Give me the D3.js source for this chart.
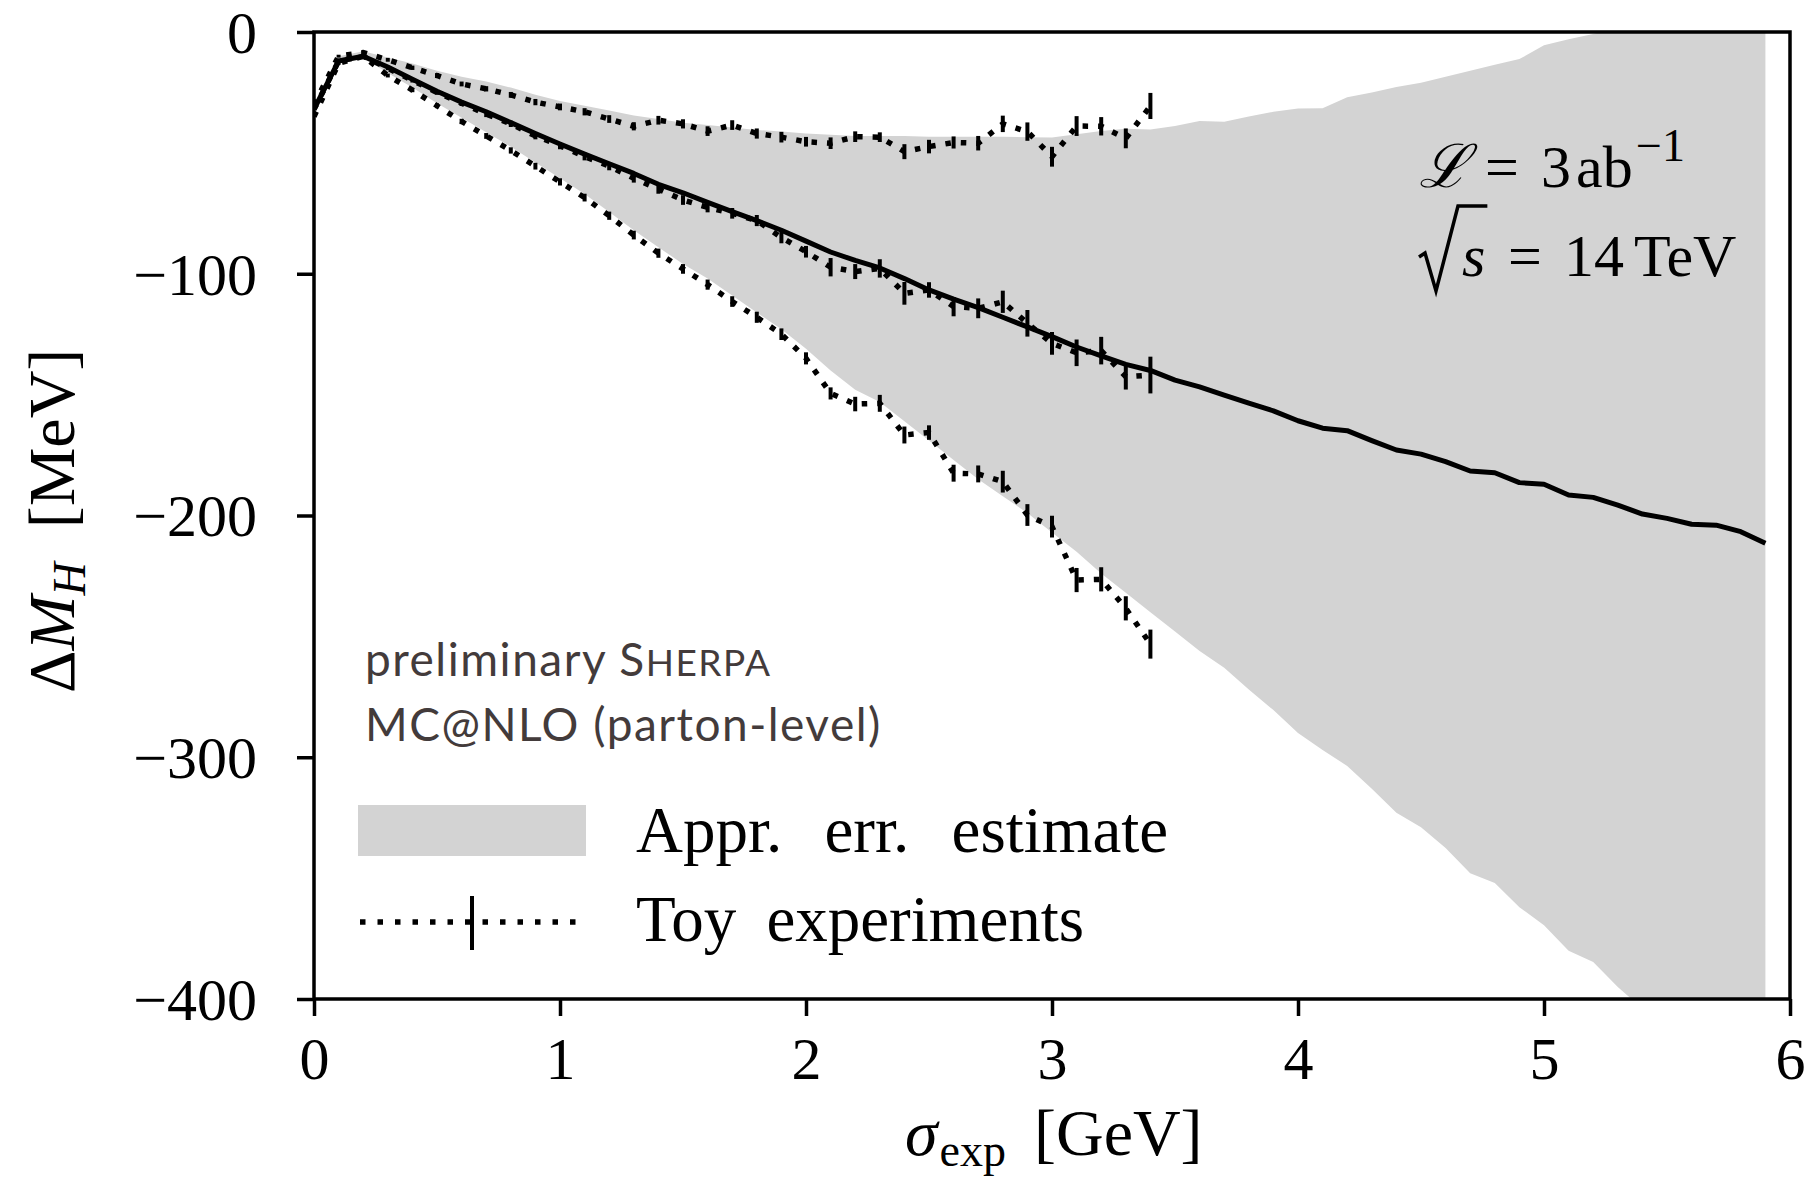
<html>
<head>
    <script src="https://d3js.org/d3.v7.min.js"></script>
    <style type="text/css">
        body { margin: 0; background: #fff; }
        text.num { font-family: "Liberation Serif", "DejaVu Serif", serif; font-size: 60px; fill: #000; }
        text.math { font-family: "Liberation Serif", "DejaVu Serif", serif; font-size: 60px; fill: #000; }
        text.label { font-family: "Liberation Serif", "DejaVu Serif", serif; font-size: 66px; fill: #000; }
        text.legend { font-family: "Liberation Serif", "DejaVu Serif", serif; font-size: 65px; fill: #000; }
        text.sherpa { font-family: Lato, "Open Sans", sans-serif; font-size: 46px; fill: #433b3b; letter-spacing: 1.5px; }
        path.toy { fill: none; stroke: #000; stroke-width: 5.5; stroke-dasharray: 5.5 10; }
        line.bar { stroke: #000; stroke-width: 4; }
    </style>
</head>

<body>
    <svg></svg>

    <script>
        const Width = 1812, Height = 1200;
        const Left = 314, Right = 1790, Top = 32, Bottom = 999;
        const Grey = "#d3d3d3";

        // sigma_exp grid [GeV]
        const sigma = [0.0, 0.1, 0.2, 0.3, 0.4, 0.5, 0.6, 0.7, 0.8, 0.9,
                       1.0, 1.1, 1.2, 1.3, 1.4, 1.5, 1.6, 1.7, 1.8, 1.9,
                       2.0, 2.1, 2.2, 2.3, 2.4, 2.5, 2.6, 2.7, 2.8, 2.9,
                       3.0, 3.1, 3.2, 3.3, 3.4, 3.5, 3.6, 3.7, 3.8, 3.9,
                       4.0, 4.1, 4.2, 4.3, 4.4, 4.5, 4.6, 4.7, 4.8, 4.9,
                       5.0, 5.1, 5.2, 5.3, 5.4, 5.5, 5.6, 5.7, 5.8, 5.9];

        // central Delta M_H [MeV]
        const central = [-32, -12, -10, -14.5, -19.5, -24.5, -29, -33, -37.5, -42,
                         -46.3, -50.5, -54.5, -58.5, -63, -66.5, -70.5, -74.3, -78, -82,
                         -86.5, -91, -94.5, -97.6, -102, -106.7, -110.5, -114, -118, -122,
                         -126, -130.3, -134, -137.5, -140, -144, -146.8, -150.2, -153.5, -156.7,
                         -160.8, -163.9, -164.9, -169, -172.9, -174.6, -177.7, -181.6, -182.3, -186.4,
                         -187.1, -191.5, -192.5, -195.7, -199.4, -201.2, -203.6, -204, -206.7, -211.5];

        // approximate error estimate band
        const bandHigh = [-30, -10, -8, -10.5, -13, -16, -18.5, -20.5, -23, -26,
                          -28.5, -30.5, -32.5, -34.5, -36, -37.5, -38.5, -39.5, -40.5, -41.2,
                          -42, -42.5, -43, -43, -43, -43.3, -43.3, -43.3, -43.3, -43.5,
                          -43.6, -42.3, -41, -40, -40.3, -38.9, -36.8, -37.1, -35, -33,
                          -31.6, -31.5, -27, -25, -22.8, -21, -18.5, -16, -13.5, -11.2,
                          -5.5, -3, -0.8, 2, 5, 8, 10, 12, 14, 16];
        const bandLow = [-34, -13, -10.5, -17, -23, -29.5, -35.5, -41.5, -47.5, -54,
                         -60.5, -67, -74.5, -82, -89, -96, -102, -109, -116, -123,
                         -131, -140, -148, -153, -161, -169, -177, -185, -192, -199,
                         -207, -215, -224, -232, -240, -248, -256, -263, -272, -280.5,
                         -290, -297, -303.6, -313, -323, -329, -337.5, -348, -352, -362,
                         -369.5, -380, -384.7, -395, -404, -412, -420, -428, -436, -444];

        // toy experiments (sigma 0.0 .. 3.4)
        const toySigma = sigma.slice(0, 35);
        const toyUpper = [-30, -10, -8.5, -11.5, -14.8, -18, -21.5, -23.5, -26, -29,
                          -31, -33, -36, -39, -36.5, -38, -41, -38.5, -42, -43.5,
                          -45.4, -46, -43.3, -43.5, -49.5, -47.4, -45.7, -46, -38, -41.2,
                          -51.6, -38.9, -39, -44, -30.6];
        const toyUpperErr = [0.5, 0.6, 0.7, 0.8, 0.9, 1, 1, 1.1, 1.2, 1.3,
                             1.4, 1.5, 1.6, 1.7, 1.8, 1.9, 2, 2, 2.1, 2.2,
                             2, 2.4, 2.2, 2, 3.1, 2.8, 2.5, 3, 3.4, 3.8,
                             4.1, 4.1, 3.8, 4.1, 5.4];
        const toyMiddle = [-32, -12, -10, -15, -20, -25, -29.5, -34, -38, -43,
                           -47, -51.5, -55.5, -60.5, -65, -69.5, -72.5, -75, -78, -85,
                           -90.9, -97.3, -99.1, -97.8, -108.1, -106.7, -113.6, -114.3, -111.6, -120.5,
                           -128.8, -132.7, -131.8, -142.6, -141.9];
        const toyMiddleErr = [0.5, 0.6, 0.7, 0.8, 0.9, 1, 1.1, 1.2, 1.3, 1.4,
                              1.5, 1.6, 1.7, 1.8, 1.9, 2, 2.1, 2.2, 2.3, 2.4,
                              2.4, 3.8, 3.1, 3.8, 4.7, 3.2, 4, 4.1, 4.6, 5.5,
                              4.7, 5.5, 5.7, 5.3, 7.6];
        const toyLower = [-35, -13, -10, -18, -24, -30.5, -37, -43, -49, -55.5,
                          -62, -68.5, -76, -84, -91.5, -98, -104.5, -111.5, -118, -125,
                          -135, -149.5, -153.9, -153.6, -166.7, -165.7, -182.5, -182.8, -186, -199.8,
                          -204.6, -226.7, -226.4, -238.4, -253.2];
        const toyLowerErr = [0.5, 0.6, 0.7, 0.8, 0.9, 1, 1.1, 1.2, 1.3, 1.4,
                             1.5, 1.6, 1.7, 1.8, 1.9, 2, 2.1, 2.2, 2.3, 2.4,
                             2.5, 2.5, 3, 3.5, 3.5, 3, 3.5, 3.5, 4.5, 4.5,
                             4.5, 5, 5, 5, 6];

        const xTicks = [0, 1, 2, 3, 4, 5, 6];
        const yTicks = [0, -100, -200, -300, -400];

        var svg = d3.select("svg")
            .attr("width", Width).attr("height", Height)
            .style("background", "#fff");

        var x = d3.scaleLinear().domain([0, 6]).range([Left, Right]);
        var y = d3.scaleLinear().domain([-400, 0]).range([Bottom, Top]);

        svg.append("defs").append("clipPath").attr("id", "plotclip")
            .append("rect")
                .attr("x", Left).attr("y", Top)
                .attr("width", Right - Left).attr("height", Bottom - Top);

        var plot = svg.append("g").attr("clip-path", "url(#plotclip)");

        // band
        var band = sigma.map((s, i) => ({ s: s, lo: bandLow[i], hi: bandHigh[i] }));
        plot.append("path")
            .datum(band)
            .attr("fill", Grey)
            .attr("d", d3.area()
                .x((d) => x(d.s))
                .y0((d) => y(d.lo))
                .y1((d) => y(d.hi)));

        // central line
        plot.append("path")
            .datum(sigma.map((s, i) => [s, central[i]]))
            .attr("fill", "none")
            .attr("stroke", "#000")
            .attr("stroke-width", 5)
            .attr("stroke-linejoin", "round")
            .attr("d", d3.line().x((d) => x(d[0])).y((d) => y(d[1])));

        // toy experiments
        var toys = [
            { v: toyUpper, e: toyUpperErr },
            { v: toyMiddle, e: toyMiddleErr },
            { v: toyLower, e: toyLowerErr }
        ];
        toys.forEach(function(t)
        {
            var pts = toySigma.map((s, i) => ({ s: s, v: t.v[i], e: t.e[i] }));
            plot.append("path").classed("toy", true)
                .datum(pts)
                .attr("d", d3.line().x((d) => x(d.s)).y((d) => y(d.v)));
            plot.selectAll(null)
                .data(pts.slice(1))
                .enter()
                .append("line").classed("bar", true)
                    .attr("x1", (d) => x(d.s)).attr("x2", (d) => x(d.s))
                    .attr("y1", (d) => y(d.v - d.e)).attr("y2", (d) => y(d.v + d.e));
        });

        // axes
        var xAxis = svg.append("g")
            .attr("transform", "translate(0," + Bottom + ")")
            .call(d3.axisBottom(x).tickValues(xTicks).tickSize(17).tickPadding(20)
                .tickFormat(d3.format("d")));
        var yAxis = svg.append("g")
            .attr("transform", "translate(" + Left + ",0)")
            .call(d3.axisLeft(y).tickValues(yTicks).tickSize(17).tickPadding(40)
                .tickFormat((d) => d < 0 ? "\u2212" + Math.abs(d) : "" + d));

        [xAxis, yAxis].forEach(function(a)
        {
            a.select(".domain").remove();
            a.selectAll(".tick line").attr("stroke", "#000").attr("stroke-width", 3.5);
            a.selectAll(".tick text").attr("class", "num").attr("font-size", null)
                .attr("font-family", null);
        });
        xAxis.selectAll(".tick text").attr("dy", "0.72em");
        yAxis.selectAll(".tick text").attr("dy", "0.34em");

        svg.append("rect")
            .attr("x", Left).attr("y", Top)
            .attr("width", Right - Left).attr("height", Bottom - Top)
            .attr("fill", "none").attr("stroke", "#000").attr("stroke-width", 3.5);

        // axis titles
        var xt = svg.append("text").attr("class", "label")
            .attr("x", 905).attr("y", 1155);
        xt.append("tspan").attr("font-style", "italic").text("\u03c3");
        xt.append("tspan").attr("font-size", "46px").attr("dy", 11).attr("dx", 2).text("exp");
        xt.append("tspan").attr("dy", -11).attr("dx", 28).text("[GeV]");

        var yt = svg.append("text").attr("class", "label")
            .attr("transform", "translate(74,693) rotate(-90)");
        yt.append("tspan").text("\u0394");
        yt.append("tspan").attr("font-style", "italic").text("M");
        yt.append("tspan").attr("font-style", "italic").attr("font-size", "46px")
            .attr("dy", 11).text("H");
        yt.append("tspan").attr("dy", -11).attr("dx", 34).text("[MeV]");

        // luminosity / energy
        var lum = svg.append("text").attr("class", "math").attr("y", 187);
        lum.append("tspan").attr("x", 1419)
            .attr("font-family", "\"DejaVu Serif\", serif").attr("font-style", "italic")
            .text("\u2112");
        lum.append("tspan").attr("x", 1485).text("=");
        lum.append("tspan").attr("x", 1541).text("3");
        lum.append("tspan").attr("x", 1576).text("ab");
        lum.append("tspan").attr("x", 1636).attr("dy", -26).attr("font-size", "46px")
            .text("\u22121");

        var rs = svg.append("text").attr("class", "math").attr("y", 276);
        var sv = rs.append("tspan").attr("x", 1462).attr("font-style", "italic").text("s");
        rs.append("tspan").attr("x", 1508).text("=");
        rs.append("tspan").attr("x", 1564).text("14");
        rs.append("tspan").attr("x", 1634).text("TeV");
        var bb = sv.node().getBBox();
        var root = [[bb.x - 43, 257], [bb.x - 37, 253], [bb.x - 26, 291],
                    [bb.x - 4, 206], [bb.x + bb.width + 2, 206]];
        svg.append("path")
            .attr("d", d3.line()(root))
            .attr("fill", "none").attr("stroke", "#000")
            .attr("stroke-width", 3.5).attr("stroke-linejoin", "miter");

        // generator note
        var n1 = svg.append("text").attr("class", "sherpa").attr("x", 365).attr("y", 676);
        n1.append("tspan").text("preliminary S");
        n1.append("tspan").attr("font-size", "37px").text("HERPA");
        svg.append("text").attr("class", "sherpa").attr("x", 365).attr("y", 741)
            .text("MC@NLO (parton-level)");

        // legend
        svg.append("rect")
            .attr("x", 358).attr("y", 805).attr("width", 228).attr("height", 51)
            .attr("fill", Grey);
        svg.append("text").attr("class", "legend").attr("x", 636).attr("y", 852)
            .style("word-spacing", "26px")
            .text("Appr. err. estimate");

        svg.append("line")
            .attr("x1", 360).attr("x2", 584).attr("y1", 922).attr("y2", 922)
            .attr("stroke", "#000").attr("stroke-width", 5.5).attr("stroke-dasharray", "5.5 12");
        svg.append("line").classed("bar", true)
            .attr("x1", 472).attr("x2", 472).attr("y1", 896).attr("y2", 950);
        svg.append("text").attr("class", "legend").attr("x", 636).attr("y", 941)
            .style("word-spacing", "14px")
            .text("Toy experiments");
    </script>
</body>

</html>
